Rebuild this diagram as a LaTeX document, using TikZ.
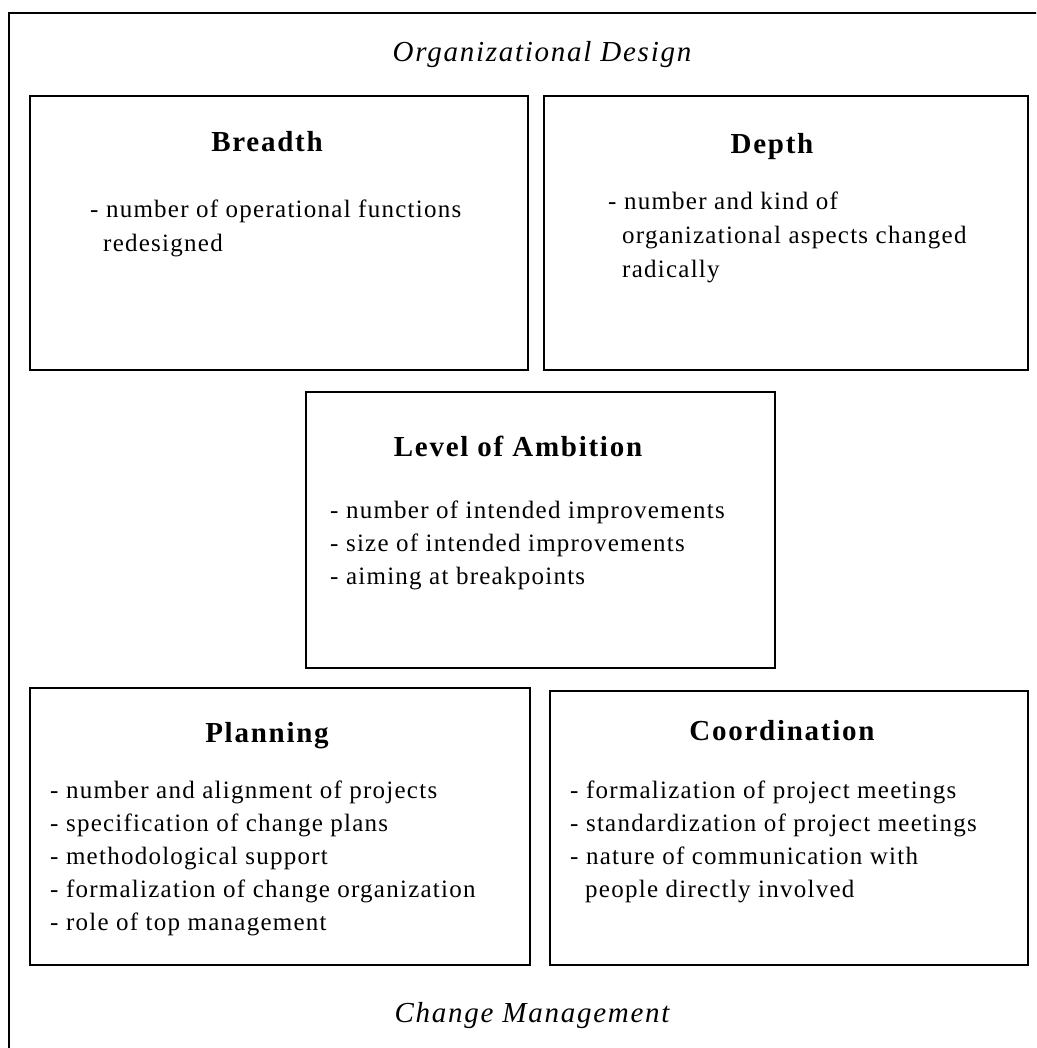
\documentclass[tikz,border=0pt]{standalone}
\usepackage{fontspec}
\setmainfont{Liberation Serif}
\newfontfamily\bodyfam{Liberation Serif}[LetterSpace=5]
\newfontfamily\titlefam{Liberation Serif}[LetterSpace=6]
\newfontfamily\headfam{Liberation Serif}[LetterSpace=6]
\begin{document}
\begin{tikzpicture}[x=1pt,y=-1pt,
  frame/.style={draw=black, line width=1.8pt},
  box/.style={draw=black, line width=1.8pt, rectangle, inner sep=0pt, anchor=north west},
  ttl/.style={anchor=base, inner sep=0pt, font=\titlefam\fontsize{29}{34}\selectfont\bfseries},
  body/.style={anchor=base west, inner sep=0pt, font=\bodyfam\fontsize{25}{33}\selectfont},
  head/.style={anchor=base, inner sep=0pt, font=\headfam\fontsize{29}{34}\selectfont\itshape}]
\useasboundingbox (0,0) rectangle (1036,1048);
\clip (0,0) rectangle (1036,1048);
\fill[white] (0,0) rectangle (1036,1048);
% outer frame (only left and top edges visible)
\draw[frame] (9,13) rectangle (1080,1090);
\node[head] (od) at (542,62) {Organizational Design};
\node[head] (cm) at (532,1022) {Change Management};
% boxes
\node[box, minimum width=498pt, minimum height=274pt] (breadth) at (29,95) {};
\node[box, minimum width=484pt, minimum height=274pt] (depth) at (543,95) {};
\node[box, minimum width=469pt, minimum height=276pt] (ambition) at (305,391) {};
\node[box, minimum width=500pt, minimum height=277pt] (planning) at (29,687) {};
\node[box, minimum width=478pt, minimum height=274pt] (coord) at (549,690) {};
% Breadth
\node[ttl] (t1) at (267,152) {Breadth};
\node[body] (b1a) at (90,218) {- number of operational functions};
\node[body] (b1b) at (103,252) {redesigned};
% Depth
\node[ttl] (t2) at (772,154) {Depth};
\node[body] (b2a) at (608,210) {- number and kind of};
\node[body] (b2b) at (622,244) {organizational aspects changed};
\node[body] (b2c) at (622,277) {radically};
% Level of Ambition
\node[ttl] (t3) at (518,456) {Level of Ambition};
\node[body] (b3a) at (330,518) {- number of intended improvements};
\node[body] (b3b) at (330,551) {- size of intended improvements};
\node[body] (b3c) at (330,584) {- aiming at breakpoints};
% Planning
\node[ttl] (t4) at (267,742) {Planning};
\node[body] (b4a) at (50,798) {- number and alignment of projects};
\node[body] (b4b) at (50,831) {- specification of change plans};
\node[body] (b4c) at (50,864) {- methodological support};
\node[body] (b4d) at (50,897) {- formalization of change organization};
\node[body] (b4e) at (50,930) {- role of top management};
% Coordination
\node[ttl] (t5) at (782,740) {Coordination};
\node[body] (b5a) at (570,798) {- formalization of project meetings};
\node[body] (b5b) at (570,831) {- standardization of project meetings};
\node[body] (b5c) at (570,864) {- nature of communication with};
\node[body] (b5d) at (585,897) {people directly involved};
\end{tikzpicture}
\end{document}
